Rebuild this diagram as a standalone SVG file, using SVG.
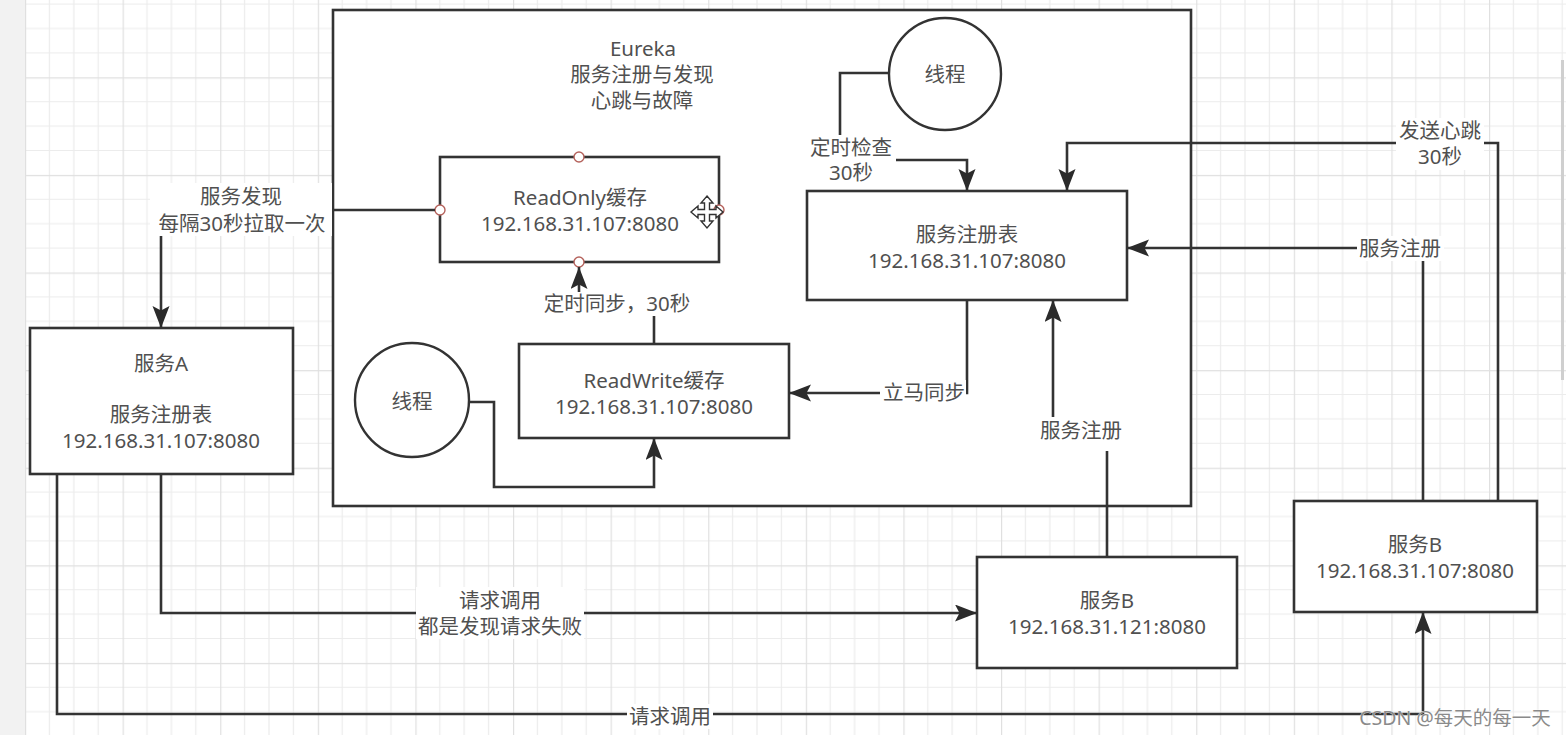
<svg xmlns="http://www.w3.org/2000/svg" width="1566" height="735" viewBox="0 0 1566 735">
<defs>
<pattern id="grid" patternUnits="userSpaceOnUse" x="25" y="-20.3" width="97.6" height="97.6">
<path d="M24.4,0V97.6M48.8,0V97.6M73.2,0V97.6M0,24.4H97.6M0,48.8H97.6M0,73.2H97.6" stroke="#ececec" stroke-width="1.2" fill="none"/>
<path d="M0.6,0V97.6M0,0.6H97.6" stroke="#e0e0e0" stroke-width="1.2" fill="none"/>
</pattern>
<marker id="arr" markerUnits="userSpaceOnUse" markerWidth="24" markerHeight="18" refX="22" refY="8.5" orient="auto">
<path d="M0,0 L22,8.5 L0,17 L4.5,8.5 Z" fill="#2b2b2b"/>
</marker>
<style>
.box{fill:#fff;stroke:#333;stroke-width:2.6}
.circ{fill:#fff;stroke:#333;stroke-width:2.4}
.t{font-family:"Noto Sans","Noto Sans CJK SC",sans-serif;font-size:20.5px;fill:#505050;text-anchor:middle;dominant-baseline:central}
.ln{fill:none;stroke:#333;stroke-width:2.6}
.bg{fill:#fff}
.cp{fill:#fff;stroke:#b5625c;stroke-width:1.4}
</style>
</defs>
<rect x="0" y="0" width="1566" height="735" fill="#fff"/>
<rect x="25" y="0" width="1541" height="735" fill="url(#grid)"/>
<rect x="0" y="0" width="25" height="735" fill="#f2f2f2"/>
<rect x="1561" y="60" width="3" height="320" fill="#cfcfcf"/>

<g id="eureka">
<rect class="box" x="333" y="10" width="858" height="496"/>
<text class="t" x="643" y="48">Eureka</text>
<text class="t" x="642" y="74">服务注册与发现</text>
<text class="t" x="642" y="100">心跳与故障</text>
</g>

<g id="readonly">
<rect class="box" x="440" y="157" width="279" height="105"/>
<text class="t" x="580" y="197">ReadOnly缓存</text>
<text class="t" x="580" y="223">192.168.31.107:8080</text>
<circle class="cp" cx="579" cy="157" r="5"/>
<circle class="cp" cx="440" cy="210" r="5"/>
<circle class="cp" cx="719" cy="210" r="5"/>
<circle class="cp" cx="579" cy="262" r="5"/>
<path d="M707,196 L713,203 L709.5,203 L709.5,209.5 L716,209.5 L716,206 L723,212 L716,218 L716,214.5 L709.5,214.5 L709.5,221 L713,221 L707,228 L701,221 L704.5,221 L704.5,214.5 L698,214.5 L698,218 L691,212 L698,206 L698,209.5 L704.5,209.5 L704.5,203 L701,203 Z" fill="#fff" stroke="#333" stroke-width="1.4"/>
</g>

<g id="readwrite">
<rect class="box" x="519" y="344" width="270" height="94"/>
<text class="t" x="654" y="380">ReadWrite缓存</text>
<text class="t" x="654" y="406">192.168.31.107:8080</text>
</g>

<g id="thread-left">
<circle class="circ" cx="412" cy="400" r="57"/>
<text class="t" x="412" y="401">线程</text>
</g>

<g id="thread-top">
<circle class="circ" cx="945" cy="74" r="56"/>
<text class="t" x="945" y="74">线程</text>
</g>

<g id="registry">
<rect class="box" x="807" y="191" width="320" height="109"/>
<text class="t" x="967" y="234">服务注册表</text>
<text class="t" x="967" y="260">192.168.31.107:8080</text>
</g>

<g id="serviceA">
<rect class="box" x="30" y="328" width="263" height="146"/>
<text class="t" x="161" y="363">服务A</text>
<text class="t" x="161" y="414">服务注册表</text>
<text class="t" x="161" y="440">192.168.31.107:8080</text>
</g>

<g id="serviceB-mid">
<rect class="box" x="977" y="557" width="260" height="111"/>
<text class="t" x="1107" y="600">服务B</text>
<text class="t" x="1107" y="626">192.168.31.121:8080</text>
</g>

<g id="serviceB-right">
<rect class="box" x="1294" y="501" width="243" height="111"/>
<text class="t" x="1415" y="544">服务B</text>
<text class="t" x="1415" y="570">192.168.31.107:8080</text>
</g>

<g id="connectors">
<path class="ln" d="M435,210 H161 V328" marker-end="url(#arr)"/>
<rect class="bg" x="150" y="183" width="182" height="53"/>
<text class="t" x="241" y="196">服务发现</text>
<text class="t" x="242" y="223">每隔30秒拉取一次</text>

<path class="ln" d="M654,344 V304 H579 V267" marker-end="url(#arr)"/>
<rect class="bg" x="540" y="292" width="156" height="24"/>
<text class="t" x="617" y="303">定时同步，30秒</text>

<path class="ln" d="M967,300 V393 H789" marker-end="url(#arr)"/>
<rect class="bg" x="880" y="380" width="86" height="25"/>
<text class="t" x="924" y="392">立马同步</text>

<path class="ln" d="M469,402 H494 V487 H654 V438" marker-end="url(#arr)"/>

<path class="ln" d="M889,73 H840 V160 H967 V191" marker-end="url(#arr)"/>
<rect class="bg" x="806" y="135" width="90" height="51"/>
<text class="t" x="851" y="147">定时检查</text>
<text class="t" x="851" y="172">30秒</text>

<path class="ln" d="M1498,501 V143 H1067 V191" marker-end="url(#arr)"/>
<rect class="bg" x="1396" y="118" width="88" height="52"/>
<text class="t" x="1440" y="130">发送心跳</text>
<text class="t" x="1440" y="156">30秒</text>

<path class="ln" d="M1423,501 V248 H1127" marker-end="url(#arr)"/>
<rect class="bg" x="1357" y="236" width="87" height="25"/>
<text class="t" x="1400" y="248">服务注册</text>

<path class="ln" d="M1107,557 V430 H1053 V300" marker-end="url(#arr)"/>
<rect class="bg" x="1037" y="417" width="88" height="34"/>
<text class="t" x="1081" y="430">服务注册</text>

<path class="ln" d="M161,474 V613 H977" marker-end="url(#arr)"/>
<rect class="bg" x="416" y="587" width="168" height="52"/>
<text class="t" x="500" y="600">请求调用</text>
<text class="t" x="500" y="626">都是发现请求失败</text>

<path class="ln" d="M57,474 V714 H1423 V612" marker-end="url(#arr)"/>
<rect class="bg" x="627" y="704" width="86" height="25"/>
<text class="t" x="670" y="716">请求调用</text>
</g>

<text x="1455" y="717" style="font-family:'Noto Sans','Noto Sans CJK SC',sans-serif;font-size:19.5px;fill:#8a8a8a;text-anchor:middle;dominant-baseline:central;stroke:#fff;stroke-width:0.6;paint-order:stroke">CSDN @每天的每一天</text>
</svg>
